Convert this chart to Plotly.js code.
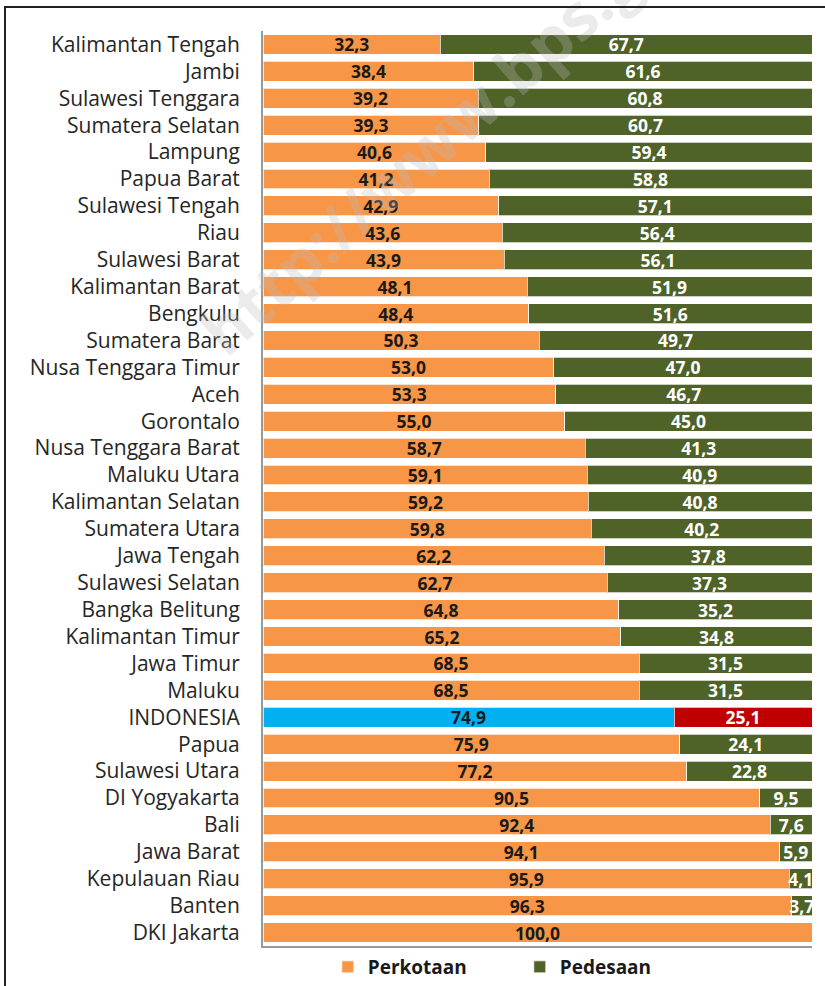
<!DOCTYPE html>
<html>
<head>
<meta charset="utf-8">
<script src="https://cdn.plot.ly/plotly-3.0.1.min.js"></script>
<style>
  html, body { margin: 0; padding: 0; width: 825px; height: 986px; overflow: hidden; background: #fff; }
  #frame { position: absolute; left: 4px; top: 6px; width: 900px; height: 1100px; border: 2px solid #222; box-sizing: border-box; pointer-events: none; z-index: 5; }
  #chart { position: absolute; left: 0; top: 0; width: 825px; height: 986px; }
</style>
</head>
<body>
<div id="chart"></div>
<div id="frame"></div>
<script>
const provinces = [
  "Kalimantan Tengah","Jambi","Sulawesi Tenggara","Sumatera Selatan","Lampung","Papua Barat",
  "Sulawesi Tengah","Riau","Sulawesi Barat","Kalimantan Barat","Bengkulu","Sumatera Barat",
  "Nusa Tenggara Timur","Aceh","Gorontalo","Nusa Tenggara Barat","Maluku Utara","Kalimantan Selatan",
  "Sumatera Utara","Jawa Tengah","Sulawesi Selatan","Bangka Belitung","Kalimantan Timur","Jawa Timur",
  "Maluku","INDONESIA","Papua","Sulawesi Utara","DI Yogyakarta","Bali","Jawa Barat",
  "Kepulauan Riau","Banten","DKI Jakarta"
];
const perkotaan = [
  32.3,38.4,39.2,39.3,40.6,41.2,42.9,43.6,43.9,48.1,48.4,50.3,53.0,53.3,55.0,58.7,59.1,59.2,
  59.8,62.2,62.7,64.8,65.2,68.5,68.5,74.9,75.9,77.2,90.5,92.4,94.1,95.9,96.3,100.0
];
const pedesaan = [
  67.7,61.6,60.8,60.7,59.4,58.8,57.1,56.4,56.1,51.9,51.6,49.7,47.0,46.7,45.0,41.3,40.9,40.8,
  40.2,37.8,37.3,35.2,34.8,31.5,31.5,25.1,24.1,22.8,9.5,7.6,5.9,4.1,3.7,0.0
];
const seriesNames = ["Perkotaan","Pedesaan"];
const highlight = "INDONESIA";
const watermark = "http://www.bps.go.id";

const fmt = v => v > 0 ? v.toFixed(1).replace('.', ',') : '';
const orange = '#F79646', green = '#4F6228', blue = '#00B0F0', red = '#C00000';

const FONT = 'Open Sans, Noto Sans, sans-serif';

const trUrban = {
  type: 'bar', orientation: 'h', name: seriesNames[0],
  y: provinces, x: perkotaan,
  text: perkotaan.map(fmt),
  textposition: 'inside', insidetextanchor: 'middle', constraintext: 'none',
  textfont: { family: FONT, size: 17.5, color: '#1a1a1a', weight: 'bold' },
  marker: { color: provinces.map(p => p === highlight ? blue : orange),
            line: { color: 'rgba(255,255,255,0.7)', width: 1 } },
  hoverinfo: 'none'
};
const trRural = {
  type: 'bar', orientation: 'h', name: seriesNames[1],
  y: provinces, x: pedesaan,
  text: pedesaan.map(fmt),
  textposition: 'inside', insidetextanchor: 'middle', constraintext: 'none',
  textfont: { family: FONT, size: 17.5, color: '#ffffff', weight: 'bold' },
  marker: { color: provinces.map(p => p === highlight ? red : green),
            line: { color: 'rgba(255,255,255,0.7)', width: 1 } },
  hoverinfo: 'none'
};

const layout = {
  width: 825, height: 986,
  margin: { l: 263, r: 13, t: 31, b: 0 },
  barmode: 'stack', bargap: 0.26,
  paper_bgcolor: '#fff', plot_bgcolor: '#fff',
  font: { family: FONT, color: '#222' },
  showlegend: true,
  legend: { orientation: 'h', x: 0.118, xanchor: 'left', y: 0.0199, yanchor: 'middle',
            font: { family: FONT, size: 19, color: '#1a1a1a', weight: 'bold' },
            entrywidth: 147, entrywidthmode: 'pixels', traceorder: 'normal',
            bgcolor: 'rgba(0,0,0,0)' },
  xaxis: { range: [0, 100], showticklabels: false, showgrid: false, zeroline: false,
           showline: true, linecolor: '#999', linewidth: 2, ticks: '', fixedrange: true },
  yaxis: { domain: [0.0419, 1], autorange: 'reversed', showgrid: false, zeroline: false, showline: true,
           linecolor: '#999', linewidth: 2, ticks: '', ticklabelstandoff: 17,
           tickfont: { family: FONT, size: 21, color: '#262626' }, fixedrange: true },
  annotations: [{
    text: watermark, xref: 'paper', yref: 'paper',
    x: 0.366, y: 0.911, xanchor: 'center', yanchor: 'middle', showarrow: false, textangle: -41.6,
    font: { family: FONT, size: 64, color: 'rgba(190,190,190,0.3)', weight: 'bold' }
  }]
};

Plotly.newPlot('chart', [trUrban, trRural], layout, { displayModeBar: false, staticPlot: true });
</script>
</body>
</html>
